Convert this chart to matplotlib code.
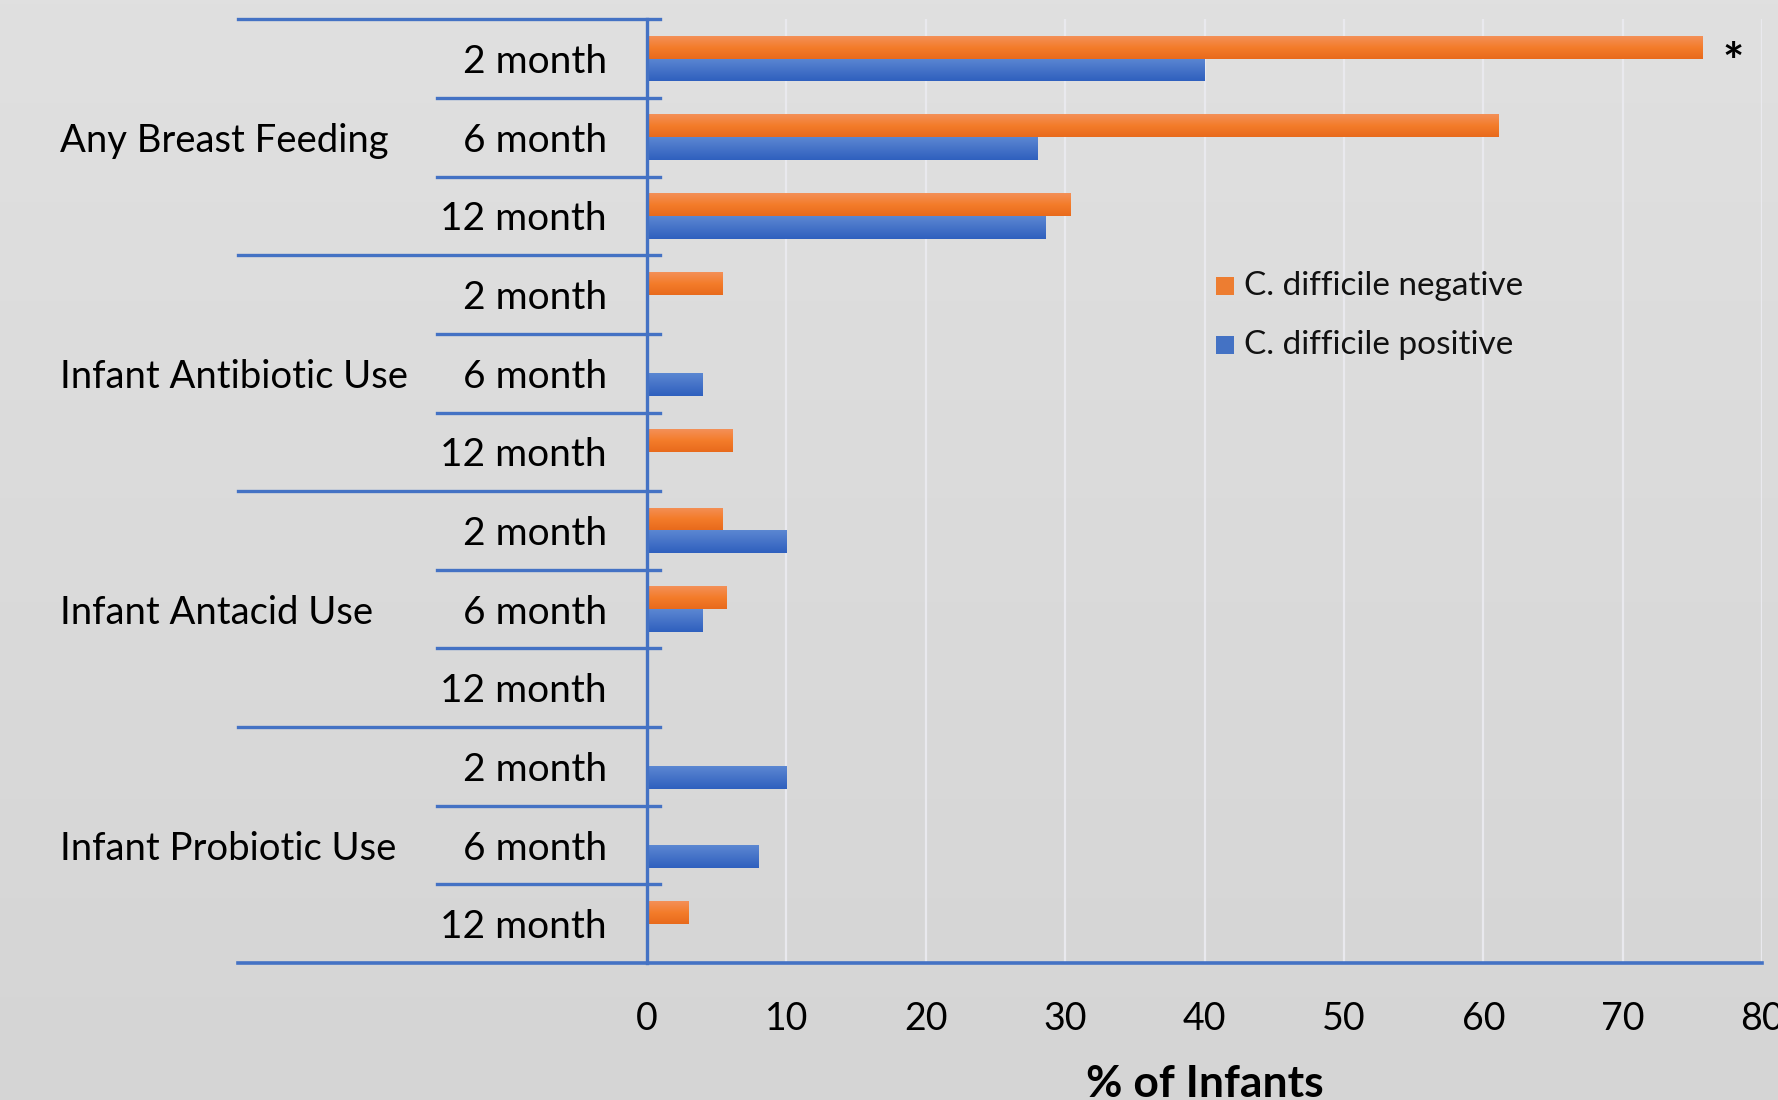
import numpy as np
import matplotlib
matplotlib.use("Agg")
import matplotlib.pyplot as plt
from matplotlib.transforms import blended_transform_factory, offset_copy
from matplotlib.colors import LinearSegmentedColormap
from matplotlib.patches import Rectangle

plt.rcParams['font.family'] = ['Lato', 'DejaVu Sans']

groups = ["Any Breast Feeding", "Infant Antibiotic Use", "Infant Antacid Use", "Infant Probiotic Use"]
months = ["2 month", "6 month", "12 month"]
neg_vals = [75.7, 61.1, 30.4, 5.4, 0, 6.1, 5.4, 5.7, 0, 0, 0, 3.0]
pos_vals = [40.0, 28.0, 28.6, 0, 4.0, 0, 10.0, 4.0, 0, 10.0, 8.0, 0]
legend_labels = ["C. difficile negative", "C. difficile positive"]
xticks = [0, 10, 20, 30, 40, 50, 60, 70, 80]
x_label = "% of Infants"

W, H = 1778, 1100
fig = plt.figure(figsize=(W / 100, H / 100), dpi=100)

# background gradient
bg = fig.add_axes([0, 0, 1, 1], zorder=-10)
grad = np.linspace(0, 1, 256).reshape(-1, 1)
bg_cmap = LinearSegmentedColormap.from_list("bg", ["#e0e0e0", "#d5d5d5"])
bg.imshow(grad, aspect="auto", cmap=bg_cmap, extent=[0, 1, 0, 1], origin="upper")
bg.axis("off")

left = 647 / W
right = 1762 / W
top = 1 - 19.3 / H
bottom = 1 - 963 / H
ax = fig.add_axes([left, bottom, right - left, top - bottom])
ax.set_facecolor("none")
ax.patch.set_alpha(0)

n = len(neg_vals)
h = 0.29
centers = np.arange(n) + 0.5

orange_cmap = LinearSegmentedColormap.from_list("o", ["#f39058", "#f47c2a", "#e86a1c"])
blue_cmap = LinearSegmentedColormap.from_list("b", ["#5b87d2", "#4673c8", "#2f60be"])


def grad_bars(ys, vals, cmap, solid):
    bars = ax.barh(ys, vals, height=h, color=solid, align="center", zorder=3)
    for rect in bars:
        if rect.get_width() <= 0:
            continue
        x0 = rect.get_x()
        y0 = rect.get_y()
        w = rect.get_width()
        hh = rect.get_height()
        im = ax.imshow(np.linspace(0, 1, 64).reshape(-1, 1), cmap=cmap, aspect="auto",
                       extent=[x0, x0 + w, y0 + hh, y0], origin="upper", zorder=4)
        im.set_clip_path(rect)
    return bars


grad_bars(centers - h / 2, neg_vals, orange_cmap, "#ed7d31")
grad_bars(centers + h / 2, pos_vals, blue_cmap, "#4472c4")
ax.set_xlim(0, 80)
ax.set_ylim(n, 0)

# gridlines
for xv in xticks[1:]:
    ax.axvline(xv, color="#e9e9ee", lw=1.6, zorder=1)

for s in ax.spines.values():
    s.set_visible(False)
ax.set_yticks([])
ax.set_xticks(xticks)
ax.set_xticklabels([str(t) for t in xticks], fontsize=27)
ax.tick_params(axis="x", length=0, pad=27)

line_c = "#4472c4"
# vertical axis
ax.plot([0, 0], [0, n], color=line_c, lw=2.4, zorder=5, clip_on=False)

tr = blended_transform_factory(fig.transFigure, ax.transData)
tr_txt = offset_copy(tr, fig=fig, x=0, y=-2.5, units="points")
x_outer = 238 / W
x_inner = 437 / W
x_tick_end = 660 / W
for b in range(n + 1):
    if b == n:
        ax.plot([x_outer, right], [b, b], transform=tr, color=line_c, lw=2.6, clip_on=False, zorder=5)
    elif b % 3 == 0:
        ax.plot([x_outer, x_tick_end], [b, b], transform=tr, color=line_c, lw=2.4, clip_on=False, zorder=5)
    else:
        ax.plot([x_inner, x_tick_end], [b, b], transform=tr, color=line_c, lw=2.4, clip_on=False, zorder=5)

# month labels
for i in range(n):
    ax.text(607 / W, centers[i], months[i % 3], transform=tr_txt, ha="right", va="center",
            fontsize=28, color="black")
for g, name in enumerate(groups):
    ax.text(60 / W, g * 3 + 1.5, name, transform=tr_txt, ha="left", va="center",
            fontsize=27.5, color="black")

# significance star
ax.text(1733 / W, centers[0] + 0.08, "*", transform=tr, ha="center", va="center",
        fontsize=36, fontweight="bold", color="black")

# legend
leg_items = [("#ed7d31", legend_labels[0], 286), ("#4472c4", legend_labels[1], 345)]
for col, lab, yp in leg_items:
    fy = 1 - yp / H
    fig.patches.append(Rectangle((1216 / W, fy - 9 / H), 18 / W, 18 / H, transform=fig.transFigure,
                                 facecolor=col, edgecolor="none"))
    fig.text(1244 / W, fy, lab, ha="left", va="center", fontsize=24, color="#111111")

fig.text((left + right) / 2, 1 - 1084 / H, x_label, ha="center", va="center",
         fontsize=32, fontweight="bold")

fig.savefig("out.png", dpi=100)
